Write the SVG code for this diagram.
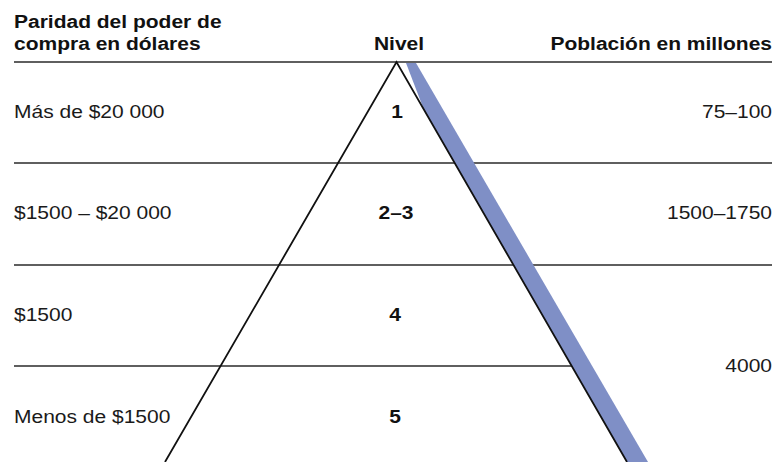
<svg xmlns="http://www.w3.org/2000/svg" width="778" height="462" viewBox="0 0 778 462">
<style>
.h{font-family:"Liberation Sans",Arial,sans-serif;font-weight:bold;font-size:21px;fill:#111}
.t{font-family:"Liberation Sans",Arial,sans-serif;font-size:21px;fill:#1a1a1a}
.n{font-family:"Liberation Sans",Arial,sans-serif;font-weight:bold;font-size:21px;fill:#111;text-anchor:middle}
.r{text-anchor:end}
.rule{stroke:#2a2a2a;stroke-width:1.3;fill:none}
.edge{stroke:#111;stroke-width:1.8;fill:none}
</style>
<rect width="778" height="462" fill="#fff"/>
<g id="rules">
<line class="rule" x1="14" y1="62" x2="772" y2="62"/>
<line class="rule" x1="14" y1="163" x2="772" y2="163"/>
<line class="rule" x1="14" y1="265" x2="772" y2="265"/>
<line class="rule" x1="14" y1="366" x2="572" y2="366"/>
</g>
<g id="pyramid">
<polygon points="406,63 416,63 648,462 627,462 424,110" fill="#7f8fc6"/>
<polyline class="edge" points="165,462 396.5,62 627,462"/>
</g>
<g id="headers">
<text class="h" transform="translate(14,28) scale(1,0.88)">Paridad del poder de</text>
<text class="h" transform="translate(14,50) scale(1,0.88)">compra en dólares</text>
<text class="n" transform="translate(399,50) scale(1,0.88)">Nivel</text>
<text class="h r" transform="translate(772,50) scale(1,0.88)">Población en millones</text>
</g>
<g id="row1">
<text class="t" transform="translate(14,118) scale(1,0.88)">Más de $20 000</text>
<text class="n" transform="translate(397,118) scale(1,0.88)">1</text>
<text class="t r" transform="translate(772,118) scale(1,0.88)">75–100</text>
</g>
<g id="row2">
<text class="t" transform="translate(14,219) scale(1,0.88)">$1500 – $20 000</text>
<text class="n" transform="translate(396,219) scale(1,0.88)">2–3</text>
<text class="t r" transform="translate(772,219) scale(1,0.88)">1500–1750</text>
</g>
<g id="row3">
<text class="t" transform="translate(14,321) scale(1,0.88)">$1500</text>
<text class="n" transform="translate(395,321) scale(1,0.88)">4</text>
</g>
<g id="row4">
<text class="t" transform="translate(14,423) scale(1,0.88)">Menos de $1500</text>
<text class="n" transform="translate(395,423) scale(1,0.88)">5</text>
<text class="t r" transform="translate(772,372) scale(1,0.88)">4000</text>
</g>
</svg>
